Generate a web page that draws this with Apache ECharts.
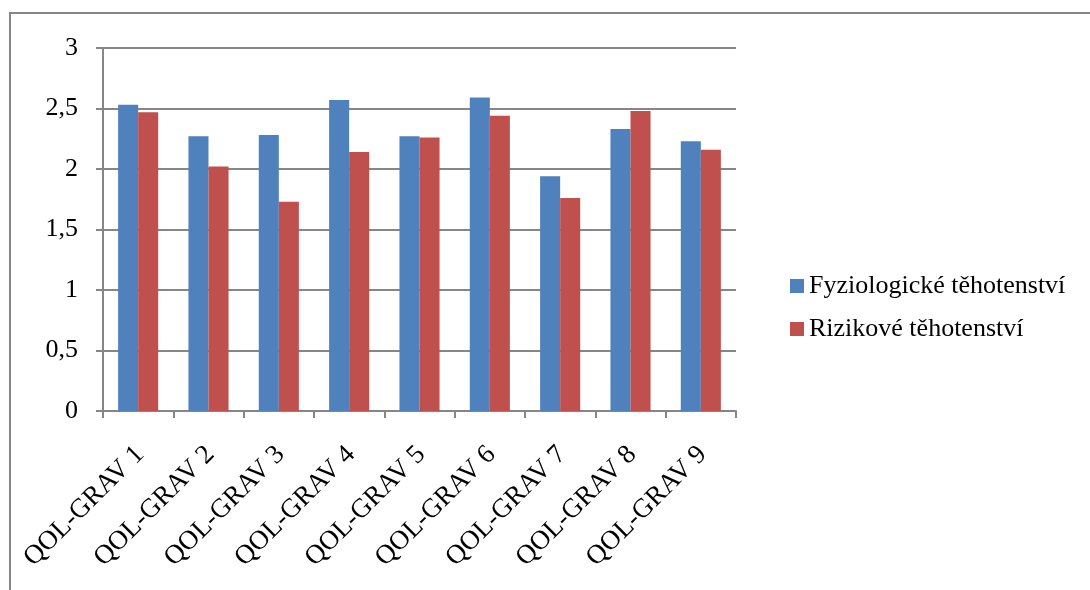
<!DOCTYPE html>
<html>
<head>
<meta charset="utf-8">
<script src="https://cdn.jsdelivr.net/npm/echarts@6/dist/echarts.min.js"></script>
<style>
  html, body { margin: 0; padding: 0; background: #fff; }
  #main { width: 1090px; height: 590px; }
</style>
</head>
<body>
<div id="main"></div>
<script>
var categories = ['QOL-GRAV 1', 'QOL-GRAV 2', 'QOL-GRAV 3', 'QOL-GRAV 4', 'QOL-GRAV 5',
                  'QOL-GRAV 6', 'QOL-GRAV 7', 'QOL-GRAV 8', 'QOL-GRAV 9'];
var fyziologicke = [2.53, 2.27, 2.28, 2.57, 2.27, 2.59, 1.94, 2.33, 2.23];
var rizikove = [2.47, 2.02, 1.73, 2.14, 2.26, 2.44, 1.76, 2.48, 2.16];
var seriesNames = ['Fyziologické těhotenství', 'Rizikové těhotenství'];

var font = '"Liberation Serif", "Times New Roman", serif';
var gray = '#868686';

var chart = echarts.init(document.getElementById('main'));
chart.setOption({
  animation: false,
  color: ['#4F81BD', '#C0504D'],
  graphic: [{
    type: 'rect',
    shape: { x: 10, y: 13, width: 1200, height: 700 },
    style: { fill: 'none', stroke: gray, lineWidth: 2 }
  }],
  grid: { left: 103, right: 354, top: 48, bottom: 179 },
  legend: {
    orient: 'vertical',
    left: 785,
    top: 268,
    itemWidth: 14,
    itemHeight: 14,
    itemGap: 17,
    icon: 'rect',
    textStyle: { fontFamily: font, fontSize: 26, color: '#000' },
    data: seriesNames
  },
  xAxis: {
    type: 'category',
    data: categories,
    axisLine: { lineStyle: { color: gray, width: 2 } },
    axisTick: { show: true, length: 7, lineStyle: { color: gray, width: 2 } },
    axisLabel: {
      rotate: 45,
      margin: 22,
      interval: 0,
      verticalAlign: 'top',
      padding: [0, 11, 0, 0],
      fontFamily: font,
      fontSize: 27,
      color: '#000'
    }
  },
  yAxis: {
    type: 'value',
    min: 0,
    max: 3,
    interval: 0.5,
    axisLine: { show: true, lineStyle: { color: gray, width: 2 } },
    axisTick: { show: true, length: 7, lineStyle: { color: gray, width: 2 } },
    splitLine: { lineStyle: { color: gray, width: 2 } },
    axisLabel: {
      margin: 25,
      fontFamily: font,
      fontSize: 26,
      color: '#000',
      formatter: function (v) { return String(v).replace('.', ','); }
    }
  },
  series: [
    {
      name: seriesNames[0],
      type: 'bar',
      data: fyziologicke,
      barGap: '0%',
      barCategoryGap: '43%'
    },
    {
      name: seriesNames[1],
      type: 'bar',
      data: rizikove,
      barGap: '0%',
      barCategoryGap: '43%'
    }
  ]
});
</script>
</body>
</html>
